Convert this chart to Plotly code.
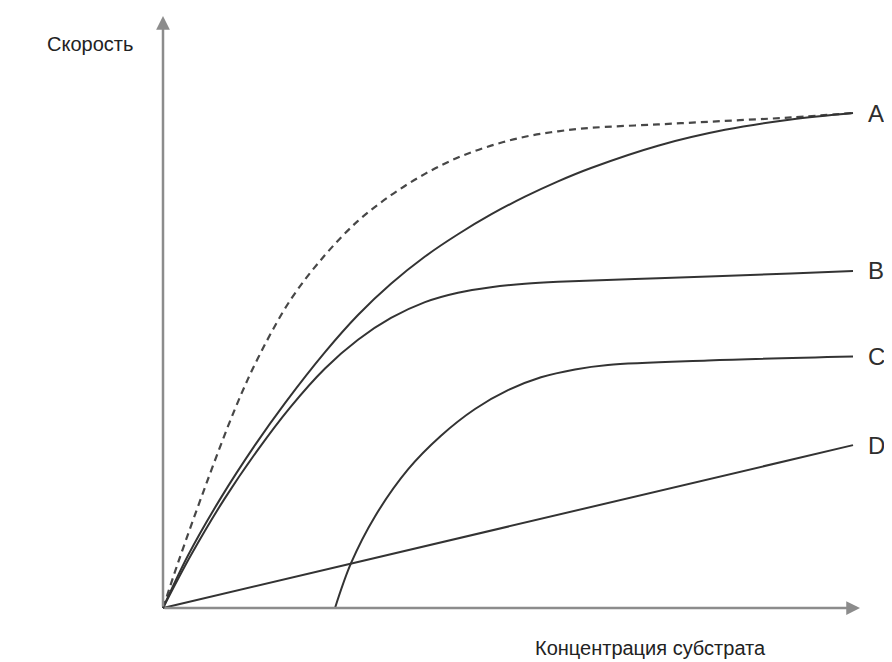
import plotly.graph_objects as go

# ---- data (substrate concentration 0..100, rate 0..100, arbitrary units) ----
dashed_x = [0, 2.17, 6.09, 10.43, 13.77, 18.55, 23.48, 28.26, 33.04, 37.97, 42.75,
            47.54, 52.46, 57.25, 62.03, 71.74, 81.45, 91.01, 100]
dashed_v = [0, 9.1, 24.4, 40.2, 50.5, 62.4, 71.3, 78.2, 83.4, 87.7, 91.0,
            93.4, 95.2, 96.3, 97.0, 97.7, 98.4, 99.1, 100]

a_x = [0, 3.62, 8.41, 13.33, 17.68, 23.48, 28.26, 33.04, 37.97, 42.75, 47.54,
       52.46, 57.25, 62.03, 71.74, 81.45, 91.01, 100]
a_v = [0, 10.6, 22.3, 32.9, 41.4, 51.7, 59.2, 65.5, 71.0, 75.5, 79.5,
       83.1, 86.2, 88.9, 93.4, 96.6, 98.7, 100]

b_x = [0, 4.06, 8.84, 13.77, 18.41, 23.48, 28.26, 33.04, 37.97, 42.75, 47.54,
       52.46, 57.25, 71.74, 91.01, 100]
b_v = [0, 10.7, 21.9, 32.0, 40.5, 48.4, 54.2, 58.6, 61.8, 63.7, 64.8,
       65.5, 65.9, 66.6, 67.6, 68.1]

c_x = [24.93, 27.25, 30.72, 35.51, 40.29, 45.22, 50.0, 54.78, 59.71, 64.49, 78.99, 100]
c_v = [0, 9.05, 18.5, 28.0, 34.8, 40.2, 44.0, 46.6, 48.2, 49.1, 50.0, 50.8]

d_x = [0, 100]
d_v = [0, 32.9]

curve_labels = ["A.", "B.", "C.", "D."]
y_title = "Скорость"
x_title = "Концентрация субстрата"

# ---- layout constants ----
W, H = 892, 662
X0_PX, Y0_PX = 155, 600          # origin in pixels
SX, SY = 6.9, 4.95               # pixels per unit
x_range = [-X0_PX / SX, (W - X0_PX) / SX]
y_range = [(Y0_PX - H) / SY, Y0_PX / SY]
X_TIP = (852 - X0_PX) / SX
Y_TIP = (Y0_PX - 8) / SY

LINE = "#333333"
AXIS = "#8c8c8c"
FONT = "Liberation Sans, Arial, sans-serif"

fig = go.Figure()

fig.add_trace(go.Scatter(x=dashed_x, y=dashed_v, mode="lines",
                         line=dict(color="#474747", width=2.2, dash="7px,5px", shape="spline", smoothing=1.0),
                         hoverinfo="skip"))
for xs, vs in [(a_x, a_v), (b_x, b_v), (c_x, c_v), (d_x, d_v)]:
    fig.add_trace(go.Scatter(x=xs, y=vs, mode="lines",
                             line=dict(color=LINE, width=2, shape="spline", smoothing=1.0),
                             hoverinfo="skip"))

annotations = []
# axes with arrowheads
annotations.append(dict(x=X_TIP, y=0, ax=0, ay=0, xref="x", yref="y", axref="x", ayref="y",
                        text="", showarrow=True, arrowhead=2, arrowsize=1.1, arrowwidth=2.5,
                        arrowcolor=AXIS))
annotations.append(dict(x=0, y=Y_TIP, ax=0, ay=0, xref="x", yref="y", axref="x", ayref="y",
                        text="", showarrow=True, arrowhead=2, arrowsize=1.1, arrowwidth=2.5,
                        arrowcolor=AXIS))
# curve labels
for lab, xs, vs in zip(curve_labels, [a_x, b_x, c_x, d_x], [a_v, b_v, c_v, d_v]):
    annotations.append(dict(x=xs[-1], y=vs[-1], xref="x", yref="y", text=lab, showarrow=False,
                            xanchor="left", yanchor="middle", xshift=13,
                            font=dict(family=FONT, size=24, color="#2e2e2e")))
# axis titles
annotations.append(dict(x=37 / W, y=1 - 36 / H, xref="paper", yref="paper", text=y_title,
                        showarrow=False, xanchor="left", yanchor="middle",
                        font=dict(family=FONT, size=20, color="#222222")))
annotations.append(dict(x=642 / W, y=1 - 640 / H, xref="paper", yref="paper", text=x_title,
                        showarrow=False, xanchor="center", yanchor="middle",
                        font=dict(family=FONT, size=20, color="#222222")))

fig.update_layout(
    width=W, height=H,
    margin=dict(l=0, r=0, t=0, b=0),
    paper_bgcolor="white", plot_bgcolor="white",
    showlegend=False,
    xaxis=dict(range=x_range, visible=False, fixedrange=True),
    yaxis=dict(range=y_range, visible=False, fixedrange=True),
    annotations=annotations,
)

fig.write_html("out.html")
